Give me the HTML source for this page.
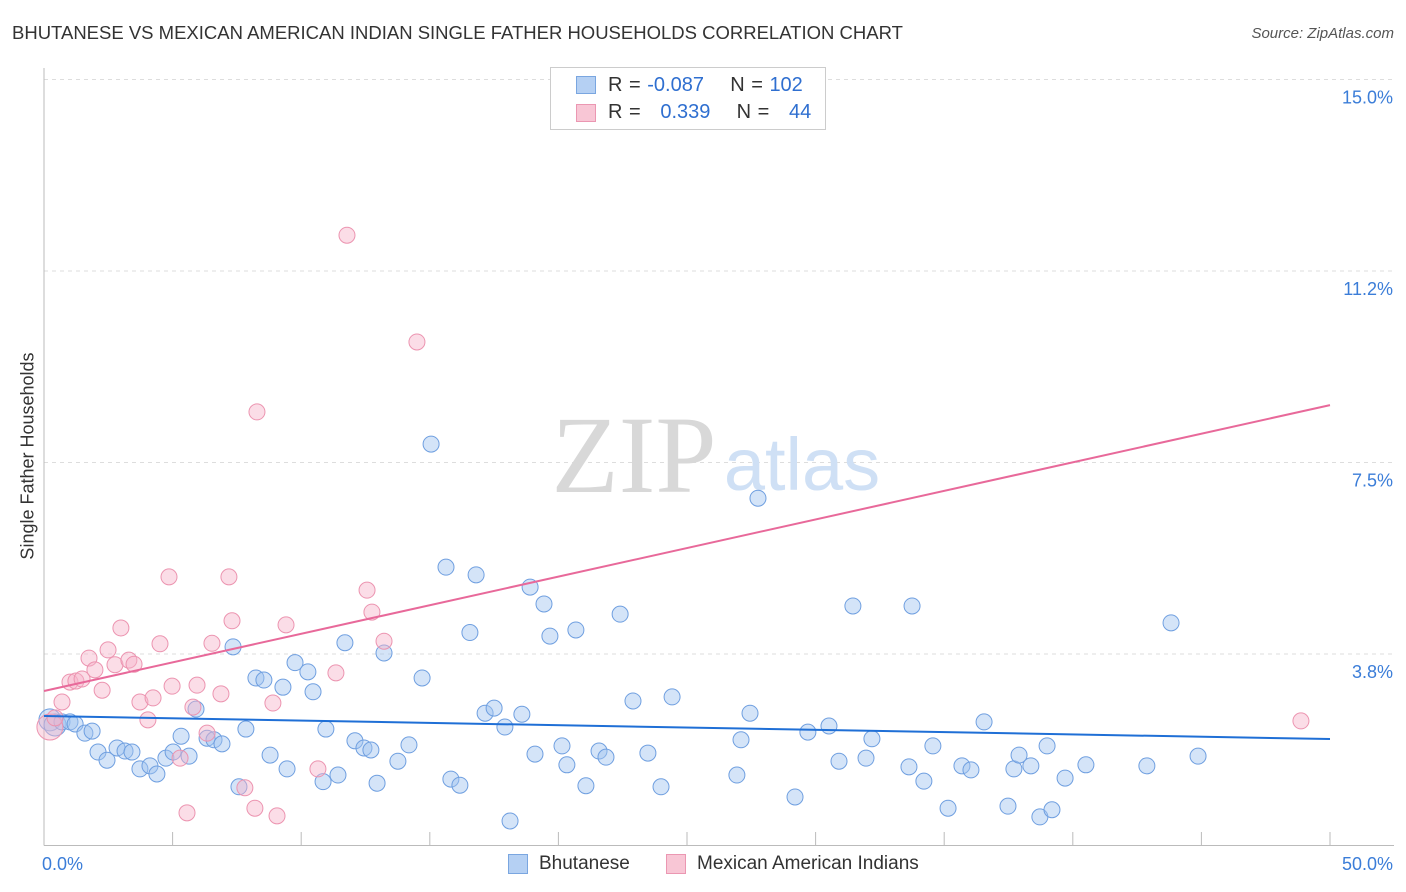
<!DOCTYPE html>
<html><head><meta charset="utf-8">
<style>
body{margin:0;background:#fff;font-family:"Liberation Sans",sans-serif;}
#wrap{position:relative;width:1406px;height:892px;overflow:hidden;}
.t{position:absolute;white-space:nowrap;}
</style></head>
<body>
<div id="wrap">
<div class="t" style="left:12px;top:22px;font-size:18.5px;color:#333;">BHUTANESE VS MEXICAN AMERICAN INDIAN SINGLE FATHER HOUSEHOLDS CORRELATION CHART</div>
<div class="t" style="right:12px;top:25px;font-size:15px;color:#555;font-style:italic;">Source: ZipAtlas.com</div>
<div class="t" style="left:28px;top:456px;font-size:18px;color:#333;transform:translate(-50%,-50%) rotate(-90deg);">Single Father Households</div>
<svg id="plot" width="1406" height="892" style="position:absolute;left:0;top:0"></svg>
<div style="position:absolute;left:550px;top:67px;width:276px;height:63px;border:1px solid #ccc;background:#fff;box-sizing:border-box;"></div>
<div style="position:absolute;left:576px;top:76px;width:20px;height:18px;background:#b5d0f3;border:1px solid #7aa6e0;box-sizing:border-box;"></div>
<div style="position:absolute;left:576px;top:104px;width:20px;height:18px;background:#f8c6d5;border:1px solid #eb97b2;box-sizing:border-box;"></div>
<div class="t" style="left:608px;top:74px;font-size:20px;color:#333;word-spacing:1px;">R = <span style="color:#2f6fd0">-0.087</span>&nbsp;&nbsp;&nbsp;&nbsp;N = <span style="color:#2f6fd0">102</span></div>
<div class="t" style="left:608px;top:101px;font-size:20px;color:#333;word-spacing:1px;">R = &nbsp;&nbsp;<span style="color:#2f6fd0">0.339</span>&nbsp;&nbsp;&nbsp;&nbsp;N = &nbsp;&nbsp;<span style="color:#2f6fd0">44</span></div>
<div style="position:absolute;left:508px;top:854px;width:20px;height:20px;background:#b5d0f3;border:1px solid #7aa6e0;box-sizing:border-box;"></div>
<div class="t" style="left:539px;top:853px;font-size:19px;color:#333;">Bhutanese</div>
<div style="position:absolute;left:666px;top:854px;width:20px;height:20px;background:#f8c6d5;border:1px solid #eb97b2;box-sizing:border-box;"></div>
<div class="t" style="left:697px;top:853px;font-size:19px;color:#333;">Mexican American Indians</div>
</div>
<script>
const blueX=[0.23,0.43,0.70,1.01,1.21,1.59,1.87,2.10,2.45,2.84,3.15,3.42,3.73,4.12,4.39,4.74,5.02,5.33,5.64,5.91,6.34,6.61,6.92,7.35,7.58,7.85,8.24,8.55,8.79,9.29,9.45,9.76,10.26,10.46,10.85,10.96,11.43,11.70,12.09,12.44,12.71,12.95,13.22,13.76,14.19,14.70,15.05,15.63,15.82,16.17,16.56,16.80,17.15,17.50,17.92,18.12,18.58,18.90,19.09,19.44,19.67,20.14,20.33,20.68,21.07,21.58,21.85,22.40,22.90,23.48,23.99,24.42,26.94,27.10,27.45,27.76,29.20,29.70,30.52,30.91,31.45,31.96,32.19,33.63,33.75,34.21,34.56,35.15,35.69,36.04,36.55,37.48,37.71,37.91,38.37,38.72,39.00,39.19,39.70,40.51,42.88,43.82,44.87];
const blueY=[2.46,2.36,2.42,2.42,2.38,2.20,2.24,1.83,1.67,1.91,1.85,1.83,1.50,1.56,1.40,1.71,1.83,2.14,1.75,2.67,2.10,2.07,1.99,3.89,1.15,2.28,3.28,3.24,1.77,3.10,1.50,3.58,3.40,3.01,1.25,2.28,1.38,3.97,2.05,1.91,1.87,1.22,3.77,1.65,1.97,3.28,7.86,5.45,1.30,1.18,4.17,5.30,2.59,2.69,2.32,0.48,2.57,5.06,1.79,4.73,4.10,1.95,1.58,4.22,1.17,1.85,1.73,4.53,2.83,1.81,1.15,2.91,1.38,2.07,2.59,6.80,0.95,2.22,2.34,1.65,4.69,1.71,2.09,1.54,4.69,1.26,1.95,0.73,1.56,1.48,2.42,0.77,1.50,1.77,1.56,0.56,1.95,0.70,1.32,1.58,1.56,4.36,1.75];
const pinkX=[0.23,0.43,0.70,1.01,1.24,1.48,1.75,1.98,2.26,2.49,2.76,2.99,3.30,3.50,3.73,4.04,4.24,4.51,4.86,4.98,5.29,5.56,5.79,5.95,6.34,6.53,6.88,7.19,7.31,7.81,8.20,8.28,8.90,9.06,9.41,10.65,11.35,11.78,12.56,12.75,13.22,14.50,48.87];
const pinkY=[2.32,2.50,2.81,3.20,3.22,3.26,3.67,3.44,3.04,3.83,3.54,4.26,3.63,3.55,2.81,2.46,2.89,3.95,5.26,3.12,1.71,0.64,2.71,3.14,2.20,3.96,2.97,5.26,4.40,1.13,0.73,8.49,2.79,0.58,4.32,1.50,3.38,11.95,5.00,4.57,4.00,9.86,2.44];
const blueTrend=[2.536,2.085];
const pinkTrend=[3.026,8.623];
const yTicks=[3.75,7.5,11.25,15];
const yTickLabels=["3.8%","7.5%","11.2%","15.0%"];
const xTickVals=[0,5,10,15,20,25,30,35,40,45,50];
const xEndLabels=["0.0%","50.0%"];

const NS="http://www.w3.org/2000/svg";
const svg=document.getElementById('plot');
const X=v=>44+v*25.72, Y=v=>845.5-v*51.07;
function mk(tag,attrs){const e=document.createElementNS(NS,tag);for(const k in attrs)e.setAttribute(k,attrs[k]);svg.appendChild(e);return e;}
yTicks.forEach((v,i)=>{
 const g=mk('line',{x1:44,x2:1394,y1:Y(v),y2:Y(v),stroke:'#ddd','stroke-dasharray':'4,4'});
 
 
 const t=mk('text',{x:1393,y:Y(v)+24,'text-anchor':'end','font-size':18,fill:'#3b7dd8','font-family':'Liberation Sans, sans-serif'});
 t.textContent=yTickLabels[i];
 
 
});
const ax=mk('line',{x1:44,x2:1394,y1:845.5,y2:845.5,stroke:'#bbb'});


const ay=mk('line',{x1:44,x2:44,y1:68,y2:845.5,stroke:'#bbb'});


xTickVals.forEach(v=>{
 const t=mk('line',{x1:X(v),x2:X(v),y1:832,y2:845.5,stroke:'#bbb'});
 
 
});
[[X(0)-2,'start',0],[1393,'end',1]].forEach(([x,a,i])=>{
 const t=mk('text',{x:x,y:870,'text-anchor':a,'font-size':18,fill:'#3b7dd8','font-family':'Liberation Sans, sans-serif'});
 t.textContent=xEndLabels[i];
 
 
});
const w1=mk('text',{x:634,y:492,'text-anchor':'middle','font-size':110,fill:'#d8d8d8','font-family':'Liberation Serif, serif'});
w1.textContent='ZIP';


const w2=mk('text',{x:802,y:490,'text-anchor':'middle','font-size':74,fill:'#cfe0f5','font-family':'Liberation Sans, sans-serif'});
w2.textContent='atlas';


blueX.forEach((x,i)=>{
 const c=mk('circle',{cx:X(x),cy:Y(blueY[i]),r:i<2?11:8,fill:'rgba(160,196,240,0.45)',stroke:'#6f9fe0','stroke-width':1});
 
 
});
pinkX.forEach((x,i)=>{
 const c=mk('circle',{cx:X(x),cy:Y(pinkY[i]),r:i<1?13:8,fill:'rgba(246,180,202,0.45)',stroke:'#ec94b0','stroke-width':1});
 
 
});
const bl=mk('line',{x1:X(0),y1:Y(blueTrend[0]),x2:X(50),y2:Y(blueTrend[1]),stroke:'#1f6fd6','stroke-width':2});


const pl=mk('line',{x1:X(0),y1:Y(pinkTrend[0]),x2:X(50),y2:Y(pinkTrend[1]),stroke:'#e8699a','stroke-width':2});


</script>
</body></html>
